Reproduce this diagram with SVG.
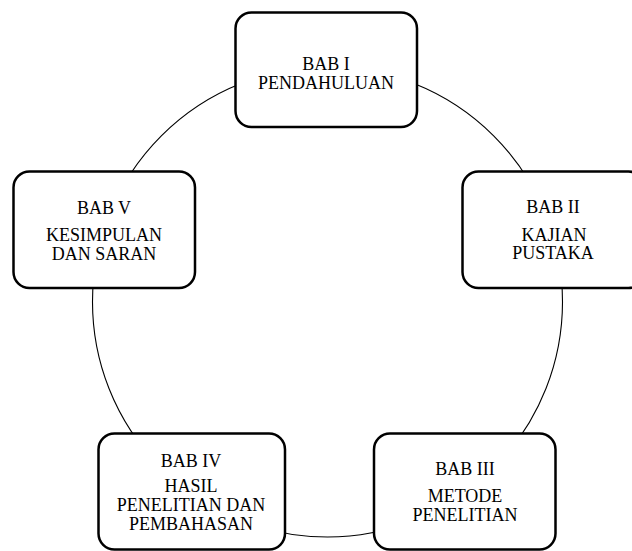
<svg xmlns="http://www.w3.org/2000/svg" width="632" height="551" viewBox="0 0 632 551">
<style>
.box{fill:#fff;stroke:#000;stroke-width:2.5}
.ring{fill:none;stroke:#000;stroke-width:1.1}
text{font-family:"Liberation Serif","Times New Roman",serif;font-size:18px;fill:#000;text-anchor:middle}
</style>
<rect width="632" height="551" fill="#fff"/>
<g id="connectors">
<circle class="ring" cx="327.5" cy="302" r="235"/>
</g>
<g id="bab1">
<rect class="box" x="235.5" y="12.5" width="181.5" height="114.5" rx="16"/>
<text x="326" y="70">BAB I</text>
<text x="326" y="88.5">PENDAHULUAN</text>
</g>
<g id="bab2">
<rect class="box" x="462.5" y="171.5" width="182" height="116.5" rx="16"/>
<text x="553" y="213">BAB II</text>
<text x="554" y="240.5">KAJIAN</text>
<text x="553" y="259">PUSTAKA</text>
</g>
<g id="bab3">
<rect class="box" x="374" y="433.5" width="181.5" height="116" rx="16"/>
<text x="465" y="475">BAB III</text>
<text x="465" y="501.5">METODE</text>
<text x="465" y="520.5">PENELITIAN</text>
</g>
<g id="bab4">
<rect class="box" x="98.5" y="433.5" width="186.5" height="116" rx="16"/>
<text x="191" y="466.5">BAB IV</text>
<text x="191" y="491.5">HASIL</text>
<text x="191" y="511">PENELITIAN DAN</text>
<text x="191" y="530">PEMBAHASAN</text>
</g>
<g id="bab5">
<rect class="box" x="13.5" y="171.5" width="181.5" height="116.5" rx="16"/>
<text x="104" y="213.5">BAB V</text>
<text x="104" y="240.5">KESIMPULAN</text>
<text x="104" y="259.5">DAN SARAN</text>
</g>
</svg>
